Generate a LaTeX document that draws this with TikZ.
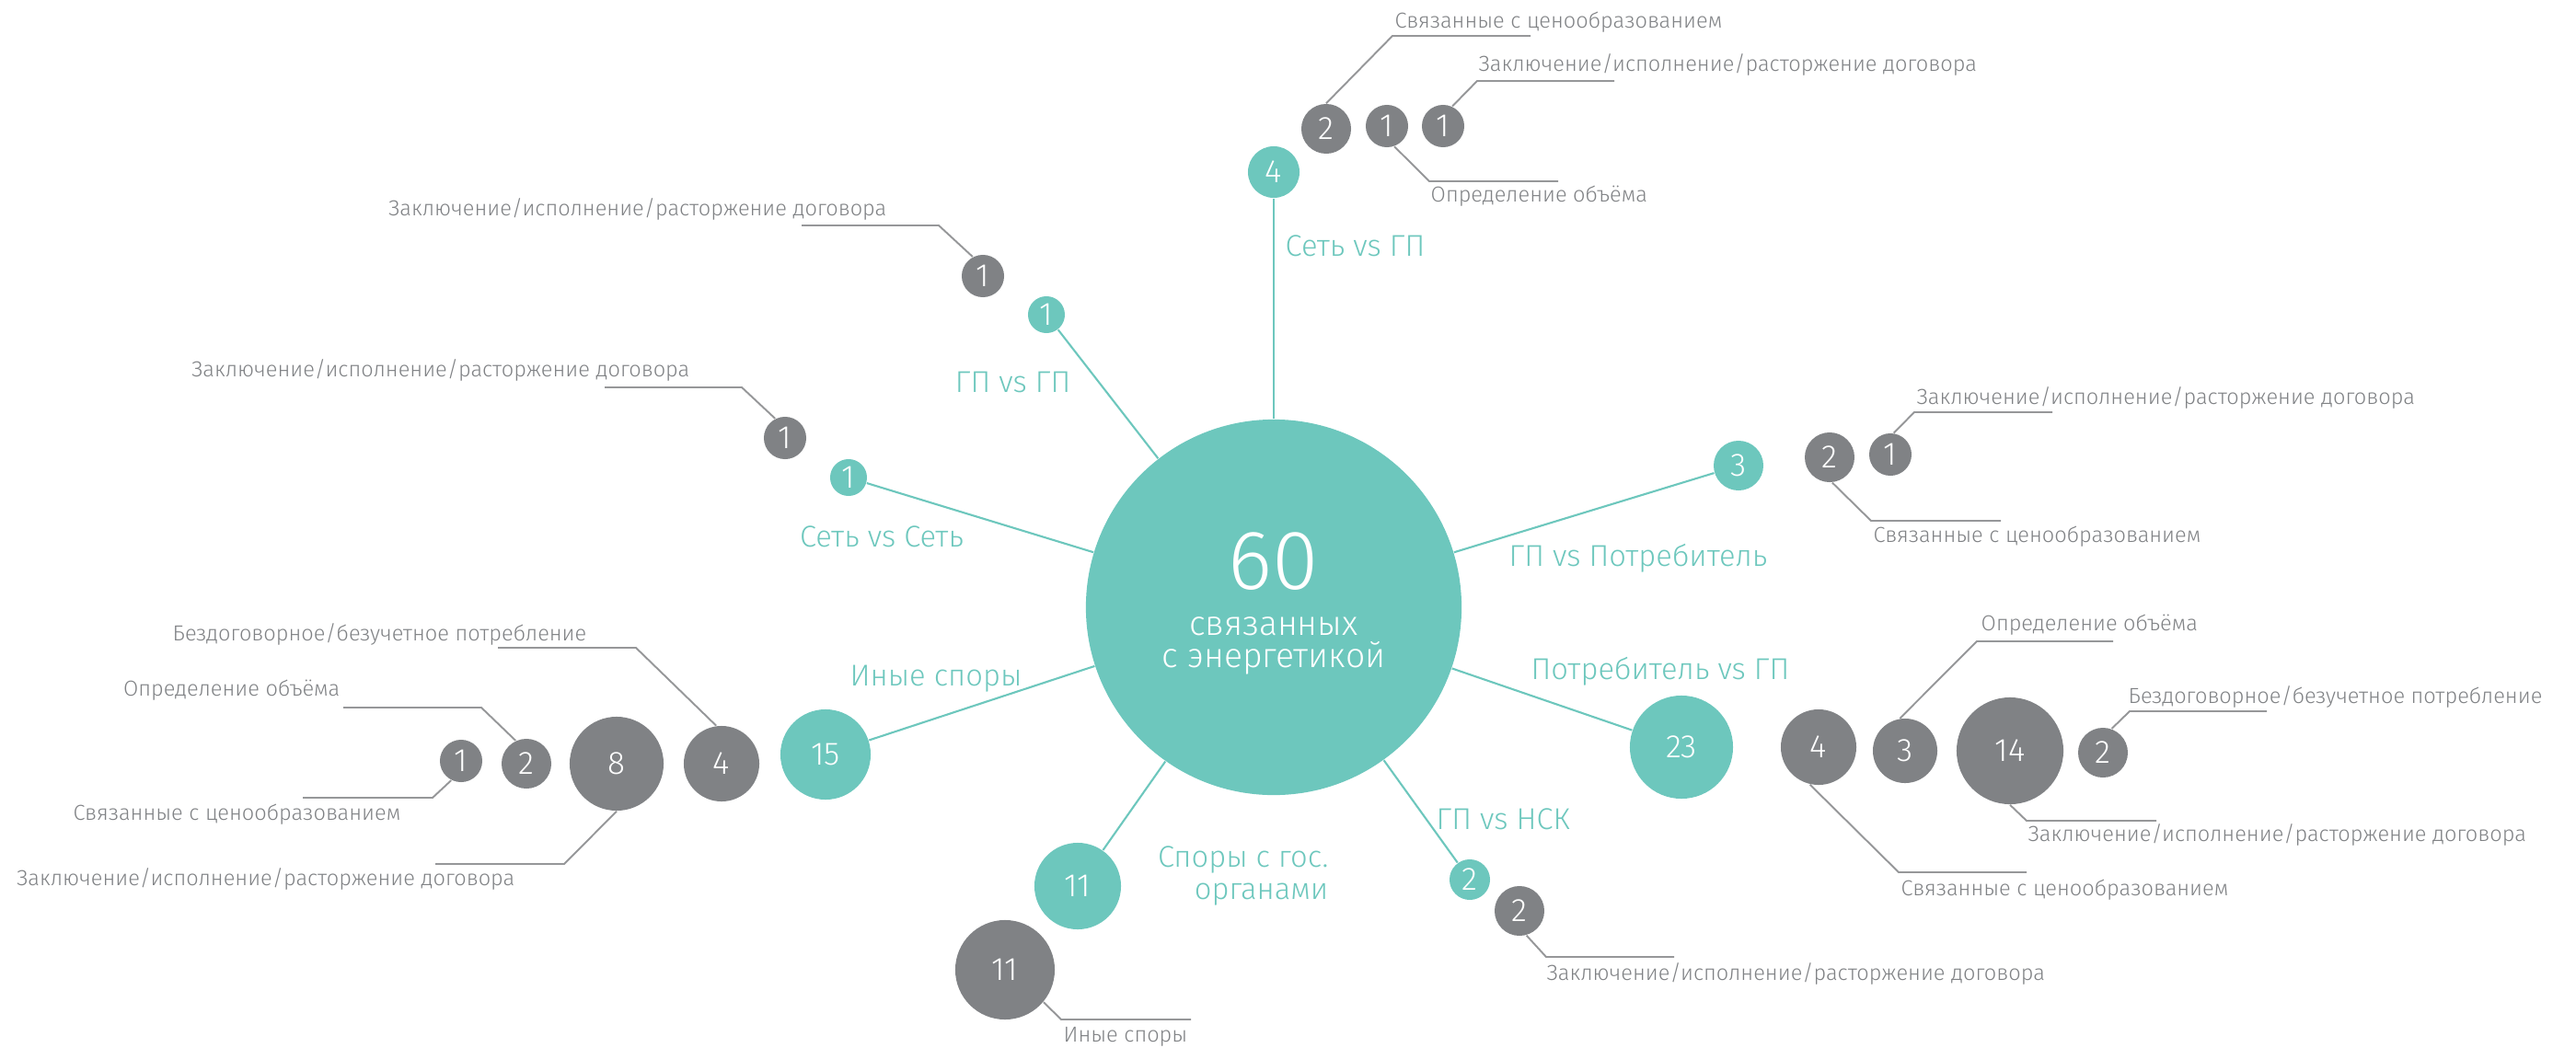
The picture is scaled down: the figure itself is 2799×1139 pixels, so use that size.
\documentclass[tikz,border=0pt]{standalone}
\usepackage{fontspec}
\setmainfont{Fira Sans Light}
\usepackage{xcolor}
\usepackage{tikz}
\definecolor{energyteal}{RGB}{109,199,189}
\definecolor{bubblegrey}{RGB}{128,130,133}
\definecolor{leadergrey}{RGB}{150,151,153}

\begin{document}
\begin{tikzpicture}[x=0.01cm, y=-0.01cm,
		hub/.style={circle, fill=energyteal, inner sep=0pt, minimum size=4.08cm},
		hubnum/.style={text=white, inner sep=0pt, font=\fontsize{26}{26}\selectfont},
		hubtxt/.style={text=white, inner sep=0pt, align=center, font=\fontsize{10.6}{9.8}\selectfont},
		topic/.style={circle, fill=energyteal, text=white, inner sep=0pt, minimum size=#1*0.02cm, font=\fontsize{10}{12}\selectfont},
		item/.style={circle, fill=bubblegrey, text=white, inner sep=0pt, minimum size=#1*0.02cm, font=\fontsize{10}{12}\selectfont},
		spoke/.style={energyteal, line width=0.6pt},
		leader/.style={leadergrey, line width=0.55pt},
		topiclbl/.style={text=energyteal, inner sep=0pt, font=\fontsize{9.3}{10}\selectfont},
		itemlbl/.style={text=bubblegrey, inner sep=0pt, font=\fontsize{6.7}{8}\selectfont}]
	\useasboundingbox (0,0) rectangle (2799,1139);

	\node[hub] (hub) at (1384,660) {};
	\node[hubnum] (total) at (1384,610) {60};
	\node[hubtxt] (totaltxt) at (1384,702) {связанных\\с энергетикой};

	\node[topic=28] (t1) at (1384,187) {4};
	\node[topic=20] (t2) at (1137,342) {1};
	\node[topic=20] (t3) at (922,519) {1};
	\node[topic=27] (t4) at (1889,506) {3};
	\node[topic=56] (t5) at (1827,812) {23};
	\node[topic=22] (t6) at (1597,956) {2};
	\node[topic=47] (t7) at (1171,963) {11};
	\node[topic=49] (t8) at (897,820) {15};

	\draw[spoke] (hub) -- (t1);
	\draw[spoke] (hub) -- (t2);
	\draw[spoke] (hub) -- (t3);
	\draw[spoke] (hub) -- (t4);
	\draw[spoke] (hub) -- (t5);
	\draw[spoke] (hub) -- (t6);
	\draw[spoke] (hub) -- (t7);
	\draw[spoke] (hub) -- (t8);

	\node[topiclbl, anchor=west] (tl1) at (1396,267) {Сеть vs ГП};
	\node[topiclbl, anchor=east] (tl2) at (1164,415) {ГП vs ГП};
	\node[topiclbl] (tl3) at (958,583) {Сеть vs Сеть};
	\node[topiclbl, anchor=west] (tl4) at (1639,607) {ГП vs Потребитель};
	\node[topiclbl, anchor=west] (tl5) at (1663,730) {Потребитель vs ГП};
	\node[topiclbl, anchor=west] (tl6) at (1560,890) {ГП vs НСК};
	\node[topiclbl, anchor=east, align=right] (tl7) at (1444,952) {Споры с гос.\\органами};
	\node[topiclbl] (tl8) at (1017,738) {Иные споры};

	\node[item=27] (g1) at (1441,140) {2};
	\node[item=23] (g2) at (1507,137) {1};
	\node[item=23] (g3) at (1568,137) {1};
	\node[item=23] (g4) at (1068,300) {1};
	\node[item=23] (g5) at (853,476) {1};
	\node[item=27] (g6) at (1988,497) {2};
	\node[item=23] (g7) at (2054,494) {1};
	\node[item=41] (g8) at (1976,812) {4};
	\node[item=35] (g9) at (2070,816) {3};
	\node[item=58] (g10) at (2184,816) {14};
	\node[item=27] (g11) at (2285,818) {2};
	\node[item=27] (g12) at (1651,990) {2};
	\node[item=54] (g13) at (1092,1054) {11};
	\node[item=41] (g14) at (784,830) {4};
	\node[item=51] (g15) at (670,830) {8};
	\node[item=27] (g16) at (572,830) {2};
	\node[item=23] (g17) at (501,827) {1};

	\coordinate (k1) at (1513,39);   \coordinate (e1) at (1663,39);
	\coordinate (k2) at (1553,197);  \coordinate (e2) at (1693,197);
	\coordinate (k3) at (1605,88);   \coordinate (e3) at (1754,88);
	\coordinate (k4) at (1020,245);  \coordinate (e4) at (871,245);
	\coordinate (k5) at (806,421);   \coordinate (e5) at (657,421);
	\coordinate (k6) at (2033,566);  \coordinate (e6) at (2174,566);
	\coordinate (k7) at (2080,448);  \coordinate (e7) at (2230,448);
	\coordinate (k8) at (2063,948);  \coordinate (e8) at (2202,948);
	\coordinate (k9) at (2148,697);  \coordinate (e9) at (2296,697);
	\coordinate (k10) at (2202,892); \coordinate (e10) at (2343,892);
	\coordinate (k11) at (2314,773); \coordinate (e11) at (2463,773);
	\coordinate (k12) at (1680,1040); \coordinate (e12) at (1819,1040);
	\coordinate (k13) at (1153,1108); \coordinate (e13) at (1294,1108);
	\coordinate (k14) at (691,704);  \coordinate (e14) at (541,704);
	\coordinate (k15) at (613,939);  \coordinate (e15) at (473,939);
	\coordinate (k16) at (523,769);  \coordinate (e16) at (373,769);
	\coordinate (k17) at (470,867);  \coordinate (e17) at (329,867);

	\draw[leader] (g1.north) -- (k1) -- (e1);
	\draw[leader] (g2.-70) -- (k2) -- (e2);
	\draw[leader] (g3.65) -- (k3) -- (e3);
	\draw[leader] (g4.118) -- (k4) -- (e4);
	\draw[leader] (g5.117) -- (k5) -- (e5);
	\draw[leader] (g6.-84) -- (k6) -- (e6);
	\draw[leader] (g7.81) -- (k7) -- (e7);
	\draw[leader] (g8.-103) -- (k8) -- (e8);
	\draw[leader] (g9.99) -- (k9) -- (e9);
	\draw[leader] (g10.south) -- (k10) -- (e10);
	\draw[leader] (g11.70) -- (k11) -- (e11);
	\draw[leader] (g12.-74) -- (k12) -- (e12);
	\draw[leader] (g13.-40) -- (k13) -- (e13);
	\draw[leader] (g14.98) -- (k14) -- (e14);
	\draw[leader] (g15.south) -- (k15) -- (e15);
	\draw[leader] (g16.115) -- (k16) -- (e16);
	\draw[leader] (g17.-117) -- (k17) -- (e17);

	\node[itemlbl, anchor=west] (d1) at (1515,24) {Связанные с ценообразованием};
	\node[itemlbl, anchor=west] (d2) at (1554,213) {Определение объёма};
	\node[itemlbl, anchor=west] (d3) at (1606,70) {Заключение/исполнение/расторжение договора};
	\node[itemlbl, anchor=east] (d4) at (964,227) {Заключение/исполнение/расторжение договора};
	\node[itemlbl, anchor=east] (d5) at (750,402) {Заключение/исполнение/расторжение договора};
	\node[itemlbl, anchor=west] (d6) at (2035,583) {Связанные с ценообразованием};
	\node[itemlbl, anchor=west] (d7) at (2082,432) {Заключение/исполнение/расторжение договора};
	\node[itemlbl, anchor=west] (d8) at (2065,967) {Связанные с ценообразованием};
	\node[itemlbl, anchor=west] (d9) at (2152,679) {Определение объёма};
	\node[itemlbl, anchor=west] (d10) at (2203,907) {Заключение/исполнение/расторжение договора};
	\node[itemlbl, anchor=west] (d11) at (2312,757) {Бездоговорное/безучетное потребление};
	\node[itemlbl, anchor=west] (d12) at (1680,1058) {Заключение/исполнение/расторжение договора};
	\node[itemlbl, anchor=west] (d13) at (1155,1127) {Иные споры};
	\node[itemlbl, anchor=east] (d14) at (638,689) {Бездоговорное/безучетное потребление};
	\node[itemlbl, anchor=east] (d15) at (560,955) {Заключение/исполнение/расторжение договора};
	\node[itemlbl, anchor=east] (d16) at (370,750) {Определение объёма};
	\node[itemlbl, anchor=east] (d17) at (436,885) {Связанные с ценообразованием};
\end{tikzpicture}
\end{document}
